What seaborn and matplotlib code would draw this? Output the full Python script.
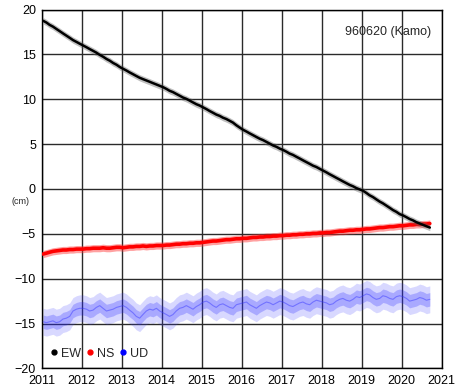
import numpy as np
import pandas as pd
import matplotlib
matplotlib.use("Agg")
import matplotlib.pyplot as plt
import seaborn as sns
from matplotlib.lines import Line2D

# Monatswerte (cm), Jan 2011 .. Sep 2020
ew = [18.75, 18.55, 18.3, 18.1, 17.85, 17.6, 17.35, 17.1, 16.85, 16.6, 16.4, 16.2,
      16.0, 15.8, 15.6, 15.4, 15.2, 14.95, 14.75, 14.5, 14.3, 14.05, 13.85, 13.6,
      13.4, 13.2, 13.0, 12.8, 12.6, 12.4, 12.25, 12.1, 11.95, 11.8, 11.65, 11.5,
      11.35, 11.15, 10.95, 10.8, 10.6, 10.4, 10.2, 10.05, 9.85, 9.65, 9.45, 9.3,
      9.1, 8.9, 8.7, 8.5, 8.3, 8.15, 7.95, 7.8, 7.6, 7.4, 7.1, 6.85,
      6.6, 6.4, 6.2, 6.0, 5.8, 5.6, 5.45, 5.25, 5.05, 4.85, 4.7, 4.5,
      4.35, 4.15, 3.95, 3.8, 3.6, 3.4, 3.2, 3.0, 2.8, 2.6, 2.45, 2.25,
      2.05, 1.85, 1.65, 1.45, 1.25, 1.05, 0.85, 0.65, 0.45, 0.3, 0.1, -0.05,
      -0.2, -0.45, -0.7, -0.9, -1.15, -1.4, -1.6, -1.85, -2.1, -2.35, -2.55, -2.8,
      -2.95, -3.15, -3.35, -3.5, -3.7, -3.85, -4.0, -4.15, -4.3]

ns = [-7.25, -7.15, -7.05, -6.95, -6.9, -6.85, -6.8, -6.8, -6.75, -6.75, -6.7, -6.7,
      -6.7, -6.65, -6.65, -6.6, -6.6, -6.6, -6.55, -6.6, -6.6, -6.55, -6.5, -6.5,
      -6.55, -6.5, -6.45, -6.45, -6.4, -6.4, -6.35, -6.4, -6.35, -6.35, -6.3, -6.3,
      -6.3, -6.25, -6.25, -6.2, -6.15, -6.15, -6.1, -6.1, -6.05, -6.05, -6.0, -6.0,
      -5.95, -5.9, -5.85, -5.8, -5.8, -5.75, -5.7, -5.65, -5.65, -5.6, -5.55, -5.55,
      -5.5, -5.5, -5.45, -5.4, -5.4, -5.35, -5.35, -5.3, -5.3, -5.25, -5.25, -5.2,
      -5.2, -5.15, -5.15, -5.1, -5.1, -5.05, -5.05, -5.0, -5.0, -4.95, -4.95, -4.9,
      -4.9, -4.85, -4.85, -4.8, -4.75, -4.7, -4.7, -4.65, -4.6, -4.6, -4.55, -4.55,
      -4.5, -4.45, -4.45, -4.4, -4.35, -4.3, -4.3, -4.25, -4.2, -4.2, -4.15, -4.1,
      -4.1, -4.05, -4.0, -4.0, -3.95, -3.95, -3.9, -3.9, -3.85]

ud = [-14.8, -14.9, -14.8, -14.7, -14.9, -14.8, -14.5, -14.4, -14.2, -13.6, -13.4, -13.3,
      -13.3, -13.4, -13.6, -13.5, -13.2, -13.0, -13.3, -13.6, -13.5, -13.4, -13.2, -13.1,
      -13.0, -13.2, -13.5, -13.8, -14.2, -14.4, -14.0, -13.6, -13.4, -13.5, -13.3, -13.6,
      -13.8, -14.0, -14.2, -14.0, -13.6, -13.3, -13.2, -13.0, -13.2, -13.4, -13.1, -12.9,
      -12.6, -12.5, -12.7, -13.0, -13.2, -12.9, -12.8, -13.0, -13.2, -13.3, -12.9, -12.8,
      -12.7, -12.6, -12.9, -13.1, -13.3, -13.0, -12.8, -12.6, -12.7, -12.9, -12.7, -12.5,
      -12.6, -12.8, -13.0, -13.1, -12.9, -12.7, -12.6, -12.8, -12.9, -12.6, -12.4, -12.5,
      -12.6, -12.7, -12.9, -12.8, -12.5, -12.3, -12.2, -12.4, -12.5, -12.3, -12.0, -12.1,
      -11.9, -11.7, -11.8, -12.1, -12.3, -12.2, -11.9, -12.0, -12.2, -12.3, -12.0, -11.9,
      -12.0, -12.2, -12.5, -12.4, -12.3, -12.1, -12.2, -12.4, -12.3]

# halbe Streubreite je Komponente (cm)
spread = {"EW": 0.35, "NS": 0.4, "UD": 1.5}

years = list(range(2011, 2022))
yticks = [-20, -15, -10, -5, 0, 5, 10, 15, 20]

dates = pd.date_range("2011-01-01", periods=len(ew), freq="MS") + pd.Timedelta(days=14)
t = dates.year + (dates.dayofyear - 0.5) / 365.25

df = pd.DataFrame({"t": t, "EW": ew, "NS": ns, "UD": ud})

sns.set_style("white")
plt.rcParams["font.family"] = ["Liberation Sans", "DejaVu Sans"]

fig = plt.figure(figsize=(4.68, 3.88), dpi=100)
ax = fig.add_axes([0.0887, 0.0505, 0.8547, 0.9248])

for y in yticks:
    ax.axhline(y, color="#2a2a2a", lw=1.0, zorder=1)
for x in years:
    ax.axvline(x, color="#2a2a2a", lw=1.0, zorder=1)

# UD Wolke: aeussere und innere Streuung, dazu der Verlauf
ax.fill_between(df["t"], df["UD"] - spread["UD"], df["UD"] + spread["UD"],
                color="#4040ff", alpha=0.2, lw=0, zorder=2)
ax.fill_between(df["t"], df["UD"] - spread["UD"] / 2, df["UD"] + spread["UD"] / 2,
                color="#2020ff", alpha=0.25, lw=0, zorder=2)
sns.lineplot(data=df, x="t", y="UD", color="#3030ff", lw=0.8, alpha=0.45, ax=ax, zorder=3)

# NS
ax.fill_between(df["t"], df["NS"] - spread["NS"], df["NS"] + spread["NS"],
                color="#ff3030", alpha=0.45, lw=0, zorder=3)
sns.lineplot(data=df, x="t", y="NS", color="#ff0000", lw=2.6, ax=ax, zorder=4)

# EW
ax.fill_between(df["t"], df["EW"] - spread["EW"], df["EW"] + spread["EW"],
                color="#606060", alpha=0.4, lw=0, zorder=4)
sns.lineplot(data=df, x="t", y="EW", color="black", lw=1.8, ax=ax, zorder=5)

ax.set_xlim(2011, 2021)
ax.set_ylim(-20, 20)
ax.set_xticks(years)
ax.set_yticks(yticks)
ax.set_xlabel("")
ax.set_ylabel("")
ax.tick_params(axis="both", labelsize=9, length=3, width=1, colors="black", pad=1)
ax.tick_params(axis="x", pad=2)
for s in ax.spines.values():
    s.set_color("black")
    s.set_linewidth(1.0)

fig.text(20 / 468, 1 - 201 / 388, "(cm)", fontsize=6.5, ha="center", va="center")
ax.text(0.975, 0.955, "960620 (Kamo)", transform=ax.transAxes, fontsize=9,
        ha="right", va="top")

handles = [Line2D([], [], ls="", marker="o", ms=3.5, color=c) for c in ["black", "red", "blue"]]
ax.legend(handles, ["EW", "NS", "UD"], loc="lower left", ncol=3, frameon=False,
          fontsize=9, handlelength=0.6, handletextpad=0.25, columnspacing=0.4,
          borderaxespad=0.3, bbox_to_anchor=(0.0, 0.0))

fig.savefig("out.png", dpi=100)
